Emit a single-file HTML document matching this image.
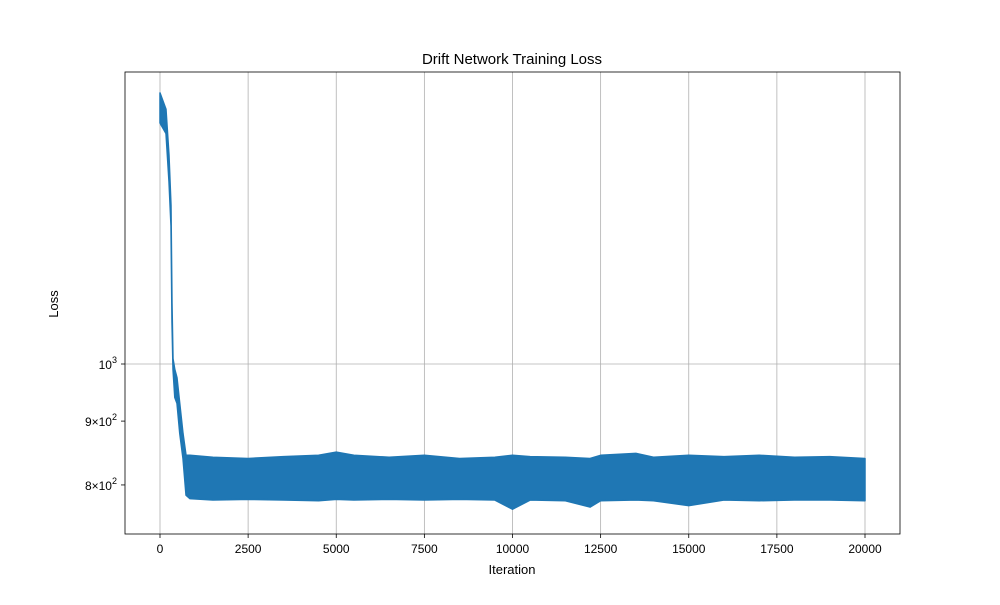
<!DOCTYPE html>
<html><head><meta charset="utf-8"><style>
body{margin:0;background:#fff;}
svg text{font-family:"Liberation Sans","DejaVu Sans",sans-serif;fill:#000;}
</style></head><body>
<svg id="chart" width="1000" height="600" xmlns="http://www.w3.org/2000/svg">
<rect width="1000" height="600" fill="#fff"/>
<text x="512" y="64" font-size="15" text-anchor="middle">Drift Network Training Loss</text>
<g id="grid"></g>
<g id="series"></g>
<rect x="125" y="72" width="775" height="462" fill="none" stroke="#000" stroke-width="0.8"/>
<g id="axes"></g>
<text x="512" y="574" font-size="13" text-anchor="middle">Iteration</text>
<text x="58" y="304" font-size="13" text-anchor="middle" transform="rotate(-90 58 304)">Loss</text>
</svg>
<script>
const iters = [0,170,255,312,340,369,420,482,560,652,738,850,1500,2500,3500,4500,5000,5500,6500,7500,8500,9500,10000,10500,11500,12200,12500,13500,14000,15000,16000,17000,18000,19000,20000];
const lossHigh = [1649,1600,1470,1340,1120,1010,990,975,930,880,845,845,842,840,843,845,850,845,842,845,840,842,845,843,842,840,845,848,842,845,843,845,842,843,840];
const lossLow = [1560,1530,1400,1290,1080,990,940,930,880,840,785,780,778,779,778,777,779,778,779,778,779,778,765,778,777,768,777,778,777,770,778,777,778,778,777];
const xTicks = [0,2500,5000,7500,10000,12500,15000,17500,20000];
const yTicks = [1000,900,800];
const yLabels = [["10","3"],["9\u00d710","2"],["8\u00d710","2"]];
const NS="http://www.w3.org/2000/svg";
const X = v => 160 + v*(705/20000);
const Y = v => 364 - (Math.log10(v)-3)*1248;
function mk(t,a,p){const e=document.createElementNS(NS,t);for(const k in a)e.setAttribute(k,a[k]);p.appendChild(e);return e;}
const grid=document.getElementById('grid'), axes=document.getElementById('axes'), series=document.getElementById('series');
xTicks.forEach(t=>{
  const g=mk('line',{x1:X(t),x2:X(t),y1:72,y2:534,stroke:'#b0b0b0','stroke-width':0.8},grid);
  
  
  mk('line',{x1:X(t),x2:X(t),y1:534,y2:538,stroke:'#000','stroke-width':0.8},axes);
  const l=mk('text',{x:X(t),y:553,'font-size':12,'text-anchor':'middle'},axes);
  l.textContent=t;
  
  
});
yTicks.forEach((t,i)=>{
  if(t===1000){
    const g=mk('line',{x1:125,x2:900,y1:Y(t),y2:Y(t),stroke:'#b0b0b0','stroke-width':0.8},grid);
    
    
  }
  mk('line',{x1:121,x2:125,y1:Y(t),y2:Y(t),stroke:'#000','stroke-width':0.8},axes);
  const l=mk('text',{x:117,y:Y(t)+5,'font-size':12,'text-anchor':'end'},axes);
  
  
  const a=document.createElementNS(NS,'tspan');a.textContent=yLabels[i][0];l.appendChild(a);
  const b=document.createElementNS(NS,'tspan');b.setAttribute('dy','-6');b.setAttribute('font-size','9');b.textContent=yLabels[i][1];l.appendChild(b);
});
let d='M'+iters.map((v,i)=>X(v)+','+Y(lossHigh[i])).join('L');
for(let i=iters.length-1;i>=0;i--) d+='L'+X(iters[i])+','+Y(lossLow[i]);
d+='Z';
const band=mk('path',{d:d,fill:'#1f77b4',stroke:'#1f77b4','stroke-width':1.5,'stroke-linejoin':'round'},series);


</script>
</body></html>
